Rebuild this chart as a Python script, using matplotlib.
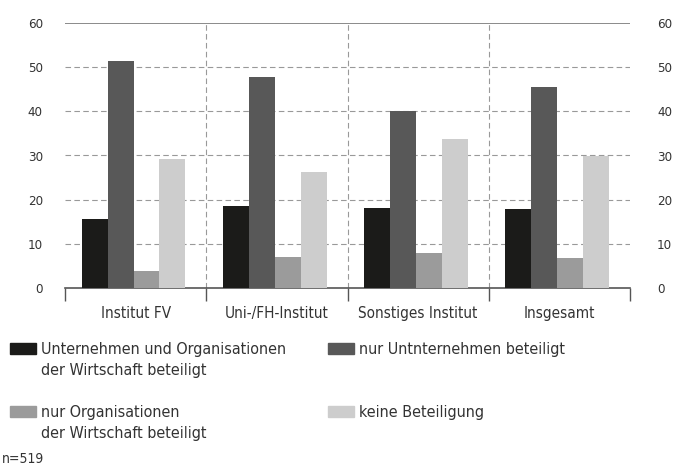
import matplotlib.pyplot as plt
import matplotlib.patches as mpatches
import numpy as np

plt.rcParams['font.family'] = ['DejaVu Sans']
plt.rcParams['font.stretch'] = 'condensed'

categories = ['Institut FV', 'Uni-/FH-Institut', 'Sonstiges Institut', 'Insgesamt']
series_names = ['Unternehmen und Organisationen\nder Wirtschaft beteiligt',
                'nur Untnternehmen beteiligt',
                'nur Organisationen\nder Wirtschaft beteiligt',
                'keine Beteiligung']
beide = [15.6, 18.6, 18.2, 17.8]
nur_unternehmen = [51.4, 47.7, 40.1, 45.5]
nur_organisationen = [3.9, 7.0, 7.9, 6.7]
keine = [29.1, 26.3, 33.8, 29.9]
yticks = [0, 10, 20, 30, 40, 50, 60]

colours = ['#1b1b19', '#585858', '#9b9b9b', '#cdcdcd']
txt = '#333333'

fig = plt.figure(figsize=(6.79, 4.69), dpi=100)
ax = fig.add_axes([65 / 679, 1 - 288 / 469, 565 / 679, 265 / 469])

x = np.arange(len(categories))
w = 0.184
all_series = [beide, nur_unternehmen, nur_organisationen, keine]
for i, vals in enumerate(all_series):
    ax.bar(x + (i - 1.5) * w - 0.015, vals, width=w, color=colours[i], zorder=3)

ax.set_xlim(-0.5, 3.5)
ax.set_ylim(0, 60)

# dashed grid + solid top line
for v in yticks[1:-1]:
    ax.axhline(v, color='#999999', lw=0.8, ls=(0, (5, 3)), zorder=1)
ax.axhline(60, color='#777777', lw=1.2, zorder=1)
for s in [0.5, 1.5, 2.5]:
    ax.axvline(s, color='#999999', lw=0.8, ls=(0, (5, 3)), zorder=1)

for sp in ['top', 'left', 'right']:
    ax.spines[sp].set_visible(False)
ax.spines['bottom'].set_color('#555555')
ax.spines['bottom'].set_linewidth(1.2)

ax.set_yticks(yticks)
ax.tick_params(axis='y', length=0, labelsize=9.5, colors=txt, pad=16)
ax.set_xticks([-0.5, 0.5, 1.5, 2.5, 3.5])
ax.set_xticklabels([])
ax.tick_params(axis='x', length=9, width=1, color='#555555')
for xi, c in zip(x, categories):
    ax.text(xi, -4.0, c, ha='center', va='top', fontsize=11, color=txt)

ax2 = ax.twinx()
ax2.set_ylim(0, 60)
ax2.set_yticks(yticks)
ax2.tick_params(axis='y', length=0, labelsize=9.5, colors=txt, pad=19.5)
for sp in ax2.spines.values():
    sp.set_visible(False)

# legend
leg_pos = [(10, 343), (328, 343), (10, 406), (328, 406)]
for (px, py), name, col in zip(leg_pos, series_names, colours):
    fig.patches.append(mpatches.Rectangle((px / 679, 1 - (py + 11) / 469), 26 / 679, 11 / 469,
                                          transform=fig.transFigure, color=col))
    fig.text((px + 31) / 679, 1 - (py - 1) / 469, name, ha='left', va='top',
             fontsize=11.5, color=txt, linespacing=1.5)

fig.text(2 / 679, 1 - 459 / 469, 'n=519', ha='left', va='center', fontsize=10, color=txt)

fig.savefig('out.png', dpi=100)
